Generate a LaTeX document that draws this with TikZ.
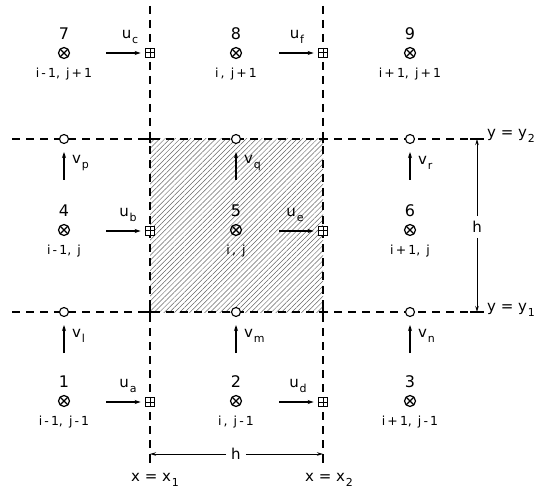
\documentclass[tikz,border=0pt]{standalone}
\usepackage{fontspec}
\setmainfont{DejaVu Sans}
\usetikzlibrary{arrows.meta,patterns.meta}
\newcommand\sbs[2]{#1\kern0.8pt\raisebox{-0.55ex}{\fontsize{11}{11}\selectfont #2}}
\begin{document}
\begin{tikzpicture}[x=1pt,y=-1pt,
  gridline/.style={line width=1.2pt, dash pattern=on 8pt off 6pt},
  cellsym/.style={circle, draw, line width=1.2pt, minimum size=11pt, inner sep=0pt,
    path picture={\draw[line width=1.1pt] ([shift={(-4pt,-4pt)}]path picture bounding box.center) -- ++(8pt,8pt)
      ([shift={(-4pt,4pt)}]path picture bounding box.center) -- ++(8pt,-8pt);}},
  usym/.style={rectangle, draw, line width=1.1pt, minimum size=9.5pt, inner sep=0pt, fill=white,
    path picture={\draw[line width=1pt] (path picture bounding box.north) -- (path picture bounding box.south)
      (path picture bounding box.west) -- (path picture bounding box.east);}},
  vsym/.style={circle, draw, line width=1.1pt, minimum size=9pt, inner sep=0pt, fill=white},
  num/.style={font=\fontsize{16}{16}\selectfont, inner sep=0pt},
  idx/.style={font=\fontsize{12.5}{12.5}\selectfont, inner sep=0pt},
  lab/.style={font=\fontsize{15}{15}\selectfont, inner sep=0pt},
  arr/.style={line width=1.2pt, -{Stealth[length=6pt,width=4pt]}},
  dim/.style={line width=0.9pt, -{Stealth[length=6pt,width=3.5pt]}},
  tick/.style={line width=1.1pt}
]
\useasboundingbox (0,0) rectangle (536,492);
% shaded control volume
\fill[pattern={Lines[angle=45,distance=3.6pt,line width=0.5pt]}, pattern color=black!60] (150,139) rectangle (323,312);
% grid lines
\draw[gridline] (150,6) -- (150,448);
\draw[gridline] (323,6) -- (323,448);
\draw[gridline] (12,139) -- (469,139);
\draw[gridline] (12,312) -- (469,312);
\foreach \p in {(150,139),(323,139),(150,312),(323,312)}
  \draw[tick] \p ++(-4,0) -- ++(8,0) \p ++(0,-4) -- ++(0,8);
% cell centres
\foreach \n/\x/\y/\t in {7/64/53/{i\,-\,1,\, j\,+\,1}, 8/236/53/{i\,,\, j\,+\,1}, 9/410/53/{i\,+\,1,\, j\,+\,1},
  4/64/230/{i\,-\,1,\, j}, 5/236/230/{i\,,\, j}, 6/410/230/{i\,+\,1,\, j},
  1/64/401/{i\,-\,1,\, j\,-\,1}, 2/236/401/{i\,,\, j\,-\,1}, 3/410/401/{i\,+\,1,\, j\,-\,1}}{
  \node[cellsym] (c\n) at (\x,\y) {};
  \node[num] (n\n) at (\x,\y-19) {\n};
  \node[idx] (t\n) at (\x,\y+21) {\t};
}
% u velocities
\foreach \nm/\x/\y/\s/\lx in {c/150/53/c/130, f/323/53/f/297, b/150/231/b/128, e/323/231/e/295, a/150/402/a/128, d/323/402/d/298}{
  \node[usym] (u\nm) at (\x,\y) {};
  \coordinate (us\nm) at (\x-44,\y);
  \draw[arr, shorten >=4pt] (us\nm) -- (u\nm);
  \node[lab] (lu\nm) at (\lx,\y-16) {\sbs{u}{\s}};
}
% v velocities
\foreach \nm/\x/\y in {p/64/139, q/236/139, r/410/139, l/64/312, m/236/312, n/410/312}{
  \node[vsym] (v\nm) at (\x,\y) {};
  \coordinate (vs\nm) at (\x,\y+41);
  \coordinate (ve\nm) at (\x,\y+13);
  \draw[arr] (vs\nm) -- (ve\nm);
  \node[lab, anchor=west] (lv\nm) at (\x+8,\y+24) {\sbs{v}{\nm}};
}
% vertical dimension
\coordinate (dt) at (477,139);
\coordinate (db) at (477,312);
\draw[tick] (470,139) -- (484,139);
\draw[tick] (470,312) -- (484,312);
\node[lab, inner sep=5pt] (hv) at (477,227) {h};
\draw[dim] (hv) -- (dt);
\draw[dim] (hv) -- (db);
\node[lab, anchor=west] (ly2) at (487,136) {y = \sbs{y}{2}};
\node[lab, anchor=west] (ly1) at (487,310) {y = \sbs{y}{1}};
% horizontal dimension
\coordinate (dl) at (150,454);
\coordinate (dr) at (323,454);
\draw[tick] (150,454) -- (150,463);
\draw[tick] (323,454) -- (323,463);
\node[lab, inner sep=5pt] (hh) at (236,454) {h};
\draw[dim] (hh) -- (dl);
\draw[dim] (hh) -- (dr);
\node[lab] (lx1) at (155,480) {x = \sbs{x}{1}};
\node[lab] (lx2) at (329,480) {x = \sbs{x}{2}};
\end{tikzpicture}
\end{document}
